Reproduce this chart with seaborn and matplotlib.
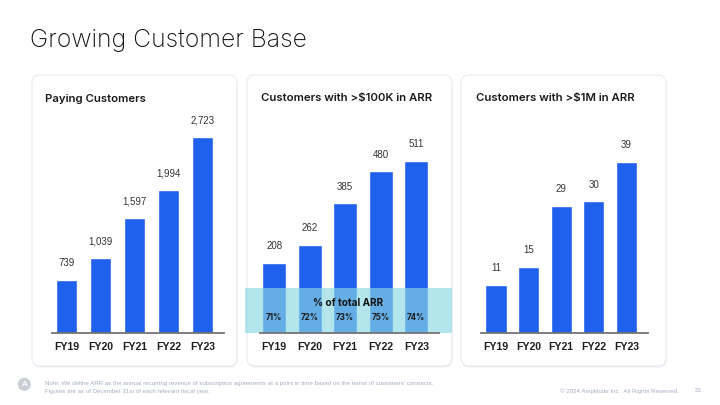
import matplotlib
matplotlib.use("Agg")
import matplotlib.pyplot as plt
import seaborn as sns
import pandas as pd
from matplotlib.patches import FancyBboxPatch, Rectangle, Circle
from matplotlib.transforms import blended_transform_factory

# ---------------- data ----------------
years = ["FY19", "FY20", "FY21", "FY22", "FY23"]
paying_customers = [739, 1039, 1597, 1994, 2723]
customers_100k = [208, 262, 385, 480, 511]
customers_1m = [11, 15, 29, 30, 39]
pct_total_arr = ["71%", "72%", "73%", "75%", "74%"]

panel_titles = ["Paying Customers", "Customers with >$100K in ARR", "Customers with >$1M in ARR"]
main_title = "Growing Customer Base"
note_lines = [
    "Note: We define ARR as the annual recurring revenue of subscription agreements at a point in time based on the terms of customers' contracts.",
    "Figures are as of December 31st of each relevant fiscal year.",
]
copyright_text = "\u00a9 2024 Amplitude Inc.  All Rights Reserved."
page_number = "23"

# ---------------- style ----------------
sns.set_theme(style="white")
plt.rcParams["font.family"] = ["Liberation Sans", "DejaVu Sans"]

BAR = "#1f61ec"
W, H = 720, 405
fig = plt.figure(figsize=(W / 100, H / 100), dpi=100)
fig.patch.set_facecolor("white")

# background axes in pixel coordinates
bg = fig.add_axes([0, 0, 1, 1], zorder=0)
bg.set_xlim(0, W)
bg.set_ylim(H, 0)
bg.axis("off")

# cards
for x0, x1 in [(32, 237), (247, 452), (461, 666)]:
    sh = FancyBboxPatch((x0 + 0.5, 76.5), x1 - x0, 291, boxstyle="round,pad=0,rounding_size=8",
                        fc="#e6e8ee", ec="none", alpha=0.7)
    bg.add_patch(sh)
    card = FancyBboxPatch((x0, 75), x1 - x0, 291, boxstyle="round,pad=0,rounding_size=8",
                          fc="white", ec="#e9ebf1", lw=0.8)
    bg.add_patch(card)

# title
bg.text(30, 40, main_title, fontsize=17.8, family=["Inter", "DejaVu Sans"], fontweight="light",
        color="#111111", va="center", ha="left")

# panel subtitles
for x, t in zip([45, 261, 476], panel_titles):
    bg.text(x, 98.5, t, fontsize=8.2, family=["Inter", "DejaVu Sans"], fontweight="semibold",
            color="#1a1a1a", va="center", ha="left")

# footer
bg.add_patch(Circle((24.3, 384.3), 6.5, fc="#c9cdd5", ec="none"))
bg.text(24.3, 384.6, "A", fontsize=6, color="white", ha="center", va="center", fontweight="bold")
for i, line in enumerate(note_lines):
    bg.text(45, 383.3 + i * 8.7, line, fontsize=4.4, family=["Liberation Sans Narrow", "Liberation Sans"],
            color="#a4aec2", va="center", ha="left")
bg.text(679, 390.7, copyright_text, fontsize=4.4, family=["Liberation Sans Narrow", "Liberation Sans"],
        color="#a4aec2", va="center", ha="right")
bg.text(698, 390.7, page_number, fontsize=4.4, family=["Liberation Sans Narrow", "Liberation Sans"],
        color="#a4aec2", va="center", ha="center")

# ---------------- bar panels ----------------
def px_axes(x0, x1, ytop, ybot):
    return fig.add_axes([x0 / W, 1 - ybot / H, (x1 - x0) / W, (ybot - ytop) / H], zorder=1)

panels = [
    dict(vals=paying_customers, x0=52.3, x1=224.3, xlim=(-0.42, 4.64), ytop=3106, width=0.63),
    dict(vals=customers_100k, x0=260, x1=439, xlim=(-0.40, 4.64), ytop=662, width=0.67),
    dict(vals=customers_1m, x0=480.7, x1=648.3, xlim=(-0.47, 4.67), ytop=50.8, width=0.65),
]

axes = []
for p in panels:
    ax = px_axes(p["x0"], p["x1"], 110, 333)
    df = pd.DataFrame({"year": years, "value": p["vals"]})
    sns.barplot(data=df, x="year", y="value", color=BAR, width=p["width"], saturation=1,
                ax=ax, zorder=2)
    ax.set_xlim(*p["xlim"])
    ax.set_ylim(0, p["ytop"])
    ax.set_facecolor("none")
    for s in ["top", "left", "right"]:
        ax.spines[s].set_visible(False)
    ax.spines["bottom"].set_color("#737373")
    ax.spines["bottom"].set_linewidth(1.3)
    ax.spines["bottom"].set_zorder(6)
    ax.set_yticks([])
    ax.set_xlabel("")
    ax.set_ylabel("")
    ax.tick_params(axis="x", length=0, pad=6.5)
    for lab in ax.get_xticklabels():
        lab.set_fontweight("bold")
        lab.set_fontsize(7.6)
        lab.set_color("#1e1e1e")
    ax.bar_label(ax.containers[0], labels=[f"{v:,}" for v in p["vals"]], padding=8.5,
                 fontsize=7, color="#333333")
    axes.append(ax)

# band "% of total ARR" on middle panel
ax2 = axes[1]
band = Rectangle((245, 288), 207, 45, transform=bg.transData, fc="#8ad7e2", alpha=0.65,
                 ec="none", clip_on=False, zorder=5)
ax2.add_patch(band)
bt = blended_transform_factory(ax2.transData, bg.transData)
ax2.text(348.5, 303, "% of total ARR", transform=bg.transData, ha="center", va="center",
         fontsize=7.2, fontweight="bold", family=["Inter", "DejaVu Sans"], color="#111111",
         zorder=7, clip_on=False)
for i, t in enumerate(pct_total_arr):
    ax2.text(i, 318, t, transform=bt, ha="center", va="center", fontsize=5.8, fontweight="bold",
             family=["Inter", "DejaVu Sans"], color="#1a1a1a", zorder=7, clip_on=False)

fig.savefig("out.png", dpi=100, facecolor="white")
